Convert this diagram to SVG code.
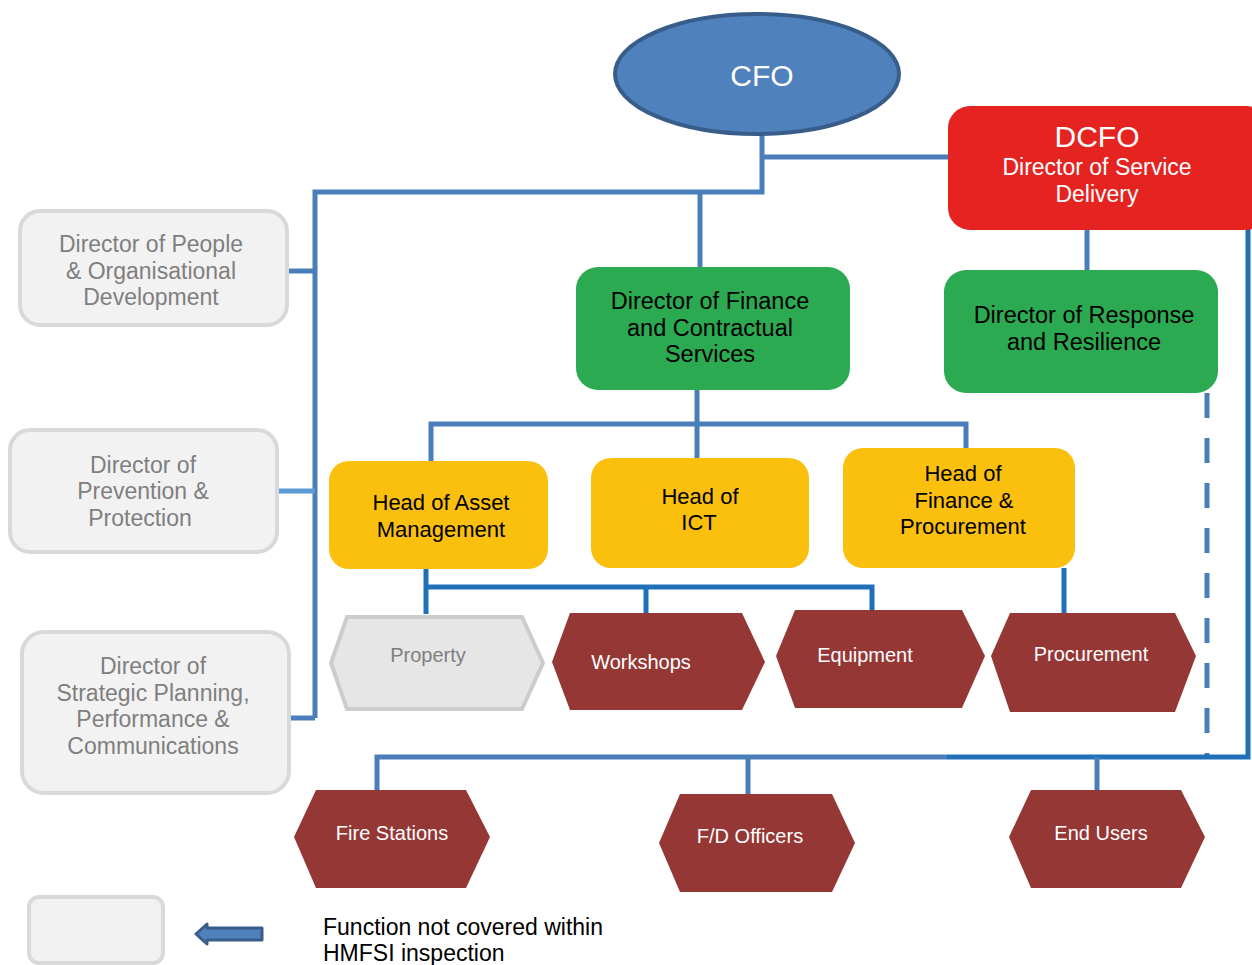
<svg xmlns="http://www.w3.org/2000/svg" width="1252" height="965" viewBox="0 0 1252 965">
<style>
text{font-family:"Liberation Sans",Arial,sans-serif;text-anchor:middle}
.ln{fill:none;stroke:#4A7EBB;stroke-width:5}
.ln2{fill:none;stroke:#1F70B8;stroke-width:5}
.gray rect{fill:#F2F2F2;stroke:#D9D9D9;stroke-width:4}
.gray text{fill:#7F7F7F;font-size:23px}
.green rect{fill:#2BAA52}
.green text{fill:#000;font-size:23.5px}
.yellow text{fill:#000;font-size:22px}
.yellow rect{fill:#FBC00D}
.hex polygon{fill:#953735}
.hex text{fill:#fff;font-size:20px}
</style>
<rect width="1252" height="965" fill="#fff"/>
<g id="connectors">
<path class="ln" d="M762 100V192H315V718"/>
<path class="ln" d="M762 157H948"/>
<path class="ln" d="M700 192V267"/>
<path class="ln" d="M288 271H315"/>
<path d="M277 491H315" fill="none" stroke="#5B9BD5" stroke-width="5"/>
<path class="ln" d="M290 718H315"/>
<path class="ln" d="M1087 230V270"/>
<path class="ln" d="M697 390V458"/>
<path class="ln" d="M431 461V424H966V448"/>
<path class="ln2" d="M426 569V614"/>
<path class="ln2" d="M426 587H872V610"/>
<path class="ln2" d="M646 587V618"/>
<path class="ln2" d="M1064 568V613"/>
<path class="ln" d="M1207 393V757" stroke-dasharray="25 20"/>
<path class="ln2" d="M1248 228V757H947"/>
<path class="ln" d="M947 757H377V790"/>
<path class="ln" d="M748 757V795"/>
<path class="ln" d="M1097 757V791"/>
</g>
<g id="cfo">
<ellipse cx="757" cy="74" rx="142" ry="60" fill="#4F81BD" stroke="#385D8A" stroke-width="4"/>
<text x="762" y="86" fill="#fff" font-size="30">CFO</text>
</g>
<g id="dcfo">
<rect x="948" y="106" width="320" height="124" rx="22" fill="#E52421"/>
<text x="1097" y="147" fill="#fff" font-size="30">DCFO</text>
<text x="1097" y="175" fill="#fff" font-size="23">Director of Service</text>
<text x="1097" y="202" fill="#fff" font-size="23">Delivery</text>
</g>
<g id="dir-people" class="gray">
<rect x="20" y="211" width="267" height="114" rx="20"/>
<text x="151" y="252">Director of People</text>
<text x="151" y="279">&amp; Organisational</text>
<text x="151" y="305">Development</text>
</g>
<g id="dir-prevention" class="gray">
<rect x="10" y="430" width="267" height="122" rx="20"/>
<text x="143" y="473">Director of</text>
<text x="143" y="499">Prevention &amp;</text>
<text x="140" y="526">Protection</text>
</g>
<g id="dir-strategic" class="gray">
<rect x="22" y="632" width="267" height="161" rx="22"/>
<text x="153" y="674">Director of</text>
<text x="153" y="701">Strategic Planning,</text>
<text x="153" y="727">Performance &amp;</text>
<text x="153" y="754">Communications</text>
</g>
<g id="dir-finance" class="green">
<rect x="576" y="267" width="274" height="123" rx="22"/>
<text x="710" y="309">Director of Finance</text>
<text x="710" y="336">and Contractual</text>
<text x="710" y="362">Services</text>
</g>
<g id="dir-response" class="green">
<rect x="944" y="270" width="274" height="123" rx="22"/>
<text x="1084" y="323">Director of Response</text>
<text x="1084" y="350">and Resilience</text>
</g>
<g id="head-asset" class="yellow">
<rect x="329" y="461" width="219" height="108" rx="20"/>
<text x="441" y="510">Head of Asset</text>
<text x="441" y="537">Management</text>
</g>
<g id="head-ict" class="yellow">
<rect x="591" y="458" width="218" height="110" rx="20"/>
<text x="700" y="504">Head of</text>
<text x="699" y="530">ICT</text>
</g>
<g id="head-finance" class="yellow">
<rect x="843" y="448" width="232" height="120" rx="20"/>
<text x="963" y="481">Head of</text>
<text x="964" y="508">Finance &amp;</text>
<text x="963" y="534">Procurement</text>
</g>
<g id="property">
<polygon points="347,617 522,617 543,663 522,709 347,709 331,663" fill="#E6E6E6" stroke="#CCCCCC" stroke-width="4"/>
<text x="428" y="662" fill="#7F7F7F" font-size="20">Property</text>
</g>
<g id="workshops" class="hex">
<polygon points="570,613 742,613 765,662 742,710 570,710 552,662"/>
<text x="641" y="669">Workshops</text>
</g>
<g id="equipment" class="hex">
<polygon points="795,610 962,610 985,656 962,708 795,708 776,656"/>
<text x="865" y="662">Equipment</text>
</g>
<g id="procurement" class="hex">
<polygon points="1010,613 1175,613 1196,656 1175,712 1010,712 991,656"/>
<text x="1091" y="661">Procurement</text>
</g>
<g id="fire-stations" class="hex">
<polygon points="316,790 466,790 490,837 466,888 316,888 294,837"/>
<text x="392" y="840">Fire Stations</text>
</g>
<g id="fd-officers" class="hex">
<polygon points="680,794 832,794 855,843 832,892 680,892 659,843"/>
<text x="750" y="843">F/D Officers</text>
</g>
<g id="end-users" class="hex">
<polygon points="1031,790 1181,790 1205,837 1181,888 1031,888 1009,837"/>
<text x="1101" y="840">End Users</text>
</g>
<g id="legend">
<rect x="29" y="897" width="134" height="66" rx="10" fill="#F2F2F2" stroke="#D9D9D9" stroke-width="4"/>
<polygon points="196,934 207,924 207,928 262,928 262,940 207,940 207,944" fill="#4F81BD" stroke="#385D8A" stroke-width="3" stroke-linejoin="round"/>
<text x="323" y="935" font-size="23" style="text-anchor:start">Function not covered within</text>
<text x="323" y="961" font-size="23" style="text-anchor:start">HMFSI inspection</text>
</g>
</svg>
